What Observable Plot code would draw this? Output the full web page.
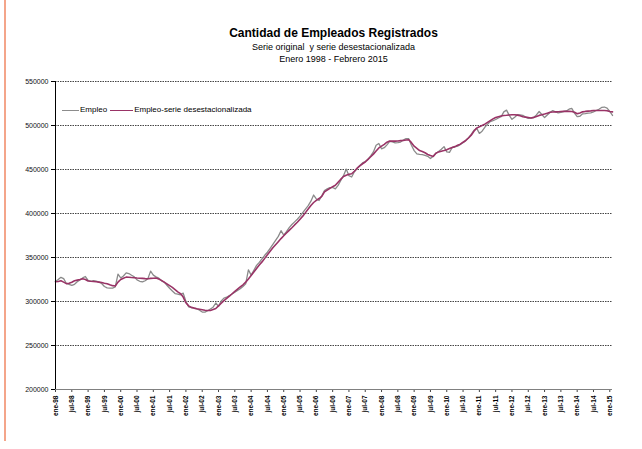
<!DOCTYPE html>
<html><head><meta charset="utf-8">
<script src="https://cdn.jsdelivr.net/npm/d3@7"></script>
<script src="https://cdn.jsdelivr.net/npm/@observablehq/plot@0.6"></script>
<style>
body{margin:0;background:#fff;font-family:"Liberation Sans",Arial,sans-serif;}
#wrap{position:relative;width:642px;height:449px;overflow:hidden;background:#fff;}
#border{position:absolute;left:4px;top:0;width:2px;height:441px;background:#f4a58a;}
.tl{position:absolute;left:55px;width:557px;text-align:center;color:#000;white-space:pre;line-height:1;}
#t1{top:27px;font-size:12px;font-weight:bold;}
#t2{top:43px;font-size:9px;}
#t3{top:55px;font-size:9px;}
#chart{position:absolute;left:0;top:72px;}
#legend{position:absolute;left:62px;top:105px;font-size:8px;color:#000;display:flex;align-items:center;line-height:10px;}
.sw{display:inline-block;height:0;margin-right:1px;}
</style></head>
<body>
<div id="wrap">
  <div id="border"></div>
  <div class="tl" id="t1">Cantidad de Empleados Registrados</div>
  <div class="tl" id="t2">Serie original  y serie desestacionalizada</div>
  <div class="tl" id="t3">Enero 1998 - Febrero 2015</div>
  <div id="chart"></div>
  <div id="legend">
    <span class="sw" style="width:17px;border-top:1.5px solid #8c8c8c"></span><span style="margin-right:3px">Empleo</span>
    <span class="sw" style="width:23px;border-top:1.5px solid #993366"></span><span>Empleo-serie desestacionalizada</span>
  </div>
</div>
<script>
// Monthly values, January 1998 - February 2015 (thousands of employees)
const empleo = [
  322.7, 325.0, 327.5, 326.0, 320.5, 319.5, 318.3, 319.5, 322.5, 324.5, 326.8, 328.4,
  324.0, 322.8, 323.6, 323.2, 322.0, 320.5, 317.0, 315.5, 315.2, 315.2, 316.5, 331.0,
  326.8, 329.0, 332.5, 331.8, 329.8, 328.0, 324.5, 323.0, 322.2, 323.6, 326.0, 334.5,
  330.0, 328.0, 326.5, 323.5, 322.0, 318.5, 315.0, 312.0, 309.0, 308.5, 307.6, 309.5,
  300.0, 294.0, 293.0, 292.5, 291.7, 290.0, 288.0, 288.0, 289.5, 291.5, 293.5, 298.3,
  294.5, 300.5, 303.8, 304.9, 306.8, 308.5, 310.5, 312.5, 314.5, 317.0, 320.0, 336.0,
  330.0, 335.5, 341.0, 344.5, 348.5, 352.5, 356.0, 360.5, 365.0, 369.5, 374.0, 380.5,
  375.5, 379.5, 384.0, 387.5, 390.5, 393.5, 397.0, 401.0, 405.0, 409.0, 414.0, 421.0,
  416.5, 414.8, 420.0, 426.0, 428.0, 429.5, 429.5, 428.0, 432.0, 437.5, 443.0, 450.5,
  443.0, 441.5, 447.5, 451.0, 454.5, 457.5, 459.0, 461.5, 465.5, 470.0, 477.5, 479.5,
  473.5, 474.8, 478.0, 482.0, 481.5, 480.3, 480.5, 481.2, 483.5, 485.0, 485.0, 477.5,
  471.5, 467.8, 467.2, 466.8, 466.0, 465.0, 462.5, 465.0, 468.5, 470.5, 473.0, 476.0,
  470.0, 469.5, 475.0, 475.8, 476.5, 478.5, 480.5, 483.0, 486.0, 490.0, 494.5, 497.0,
  491.0, 493.5, 498.0, 501.5, 504.5, 505.5, 506.8, 508.5, 510.0, 515.5, 517.5, 511.5,
  507.0, 509.5, 512.2, 512.0, 511.5, 509.5, 508.0, 508.5, 509.0, 512.0, 515.9, 512.5,
  509.0, 512.0, 514.8, 517.0, 515.5, 514.4, 515.0, 515.9, 516.5, 518.5, 519.5, 514.0,
  510.0, 510.5, 513.3, 513.5, 514.0, 514.4, 515.5, 517.0, 518.5, 520.5, 521.0, 519.7,
  516.0, 511.4
];
const desestacionalizada = [
  322.5, 322.8, 323.5, 322.0, 320.3, 320.8, 321.8, 323.5, 324.3, 325.0, 325.8, 325.0,
  323.3, 323.0, 322.8, 322.5, 322.0, 321.5, 320.8, 320.2, 319.0, 318.0, 317.6, 322.0,
  325.0, 326.5, 327.7, 327.5, 327.2, 327.0, 326.7, 326.5, 326.3, 326.0, 325.8, 326.3,
  326.5, 326.7, 325.5, 324.0, 322.0, 320.0, 318.0, 316.0, 313.5, 311.0, 309.0, 305.0,
  298.5, 295.0, 293.3, 292.5, 291.8, 291.2, 290.6, 290.0, 289.8, 289.8, 290.8, 292.0,
  295.0, 298.0, 301.0, 303.5, 306.0, 308.8, 311.5, 314.0, 316.5, 319.0, 322.0, 325.5,
  329.5, 333.5, 337.5, 341.5, 345.0, 349.0, 353.0, 357.0, 361.0, 364.5, 368.0, 371.5,
  374.7, 377.8, 380.8, 383.8, 387.0, 390.0, 393.5, 397.0, 401.0, 405.0, 409.0, 412.5,
  415.0, 417.0, 419.5, 424.5, 426.5, 428.5, 430.5, 432.0, 435.5, 439.0, 442.0, 443.5,
  444.5, 445.2, 448.0, 451.5, 454.0, 456.5, 458.5, 461.5, 464.5, 467.5, 471.0, 474.5,
  476.5, 478.5, 481.0, 482.3, 482.3, 482.2, 482.4, 482.8, 483.0, 483.5, 483.8, 480.5,
  476.5, 474.0, 471.5, 470.5, 469.0, 467.0, 465.8, 464.8, 468.5, 470.0, 470.8, 471.5,
  472.5, 473.8, 475.0, 476.0, 477.5, 478.8, 481.0, 483.0, 485.8, 489.0, 493.5, 497.0,
  498.5, 500.0, 501.5, 503.5, 505.5, 507.5, 509.0, 510.0, 510.8, 511.3, 511.6, 512.0,
  512.2, 512.2, 511.8, 511.0, 510.0, 509.5, 509.0, 508.5, 509.2, 510.3, 511.5, 512.2,
  513.0, 514.0, 515.0, 515.3, 515.5, 515.7, 515.9, 516.0, 516.0, 516.0, 515.9, 515.0,
  513.3, 514.3, 515.5, 516.0, 516.3, 516.6, 517.0, 517.0, 517.0, 517.0, 517.0, 516.8,
  516.0, 515.5
];
const xTickLabels = [
  "ene-98","jul-98","ene-99","jul-99","ene-00","jul-00","ene-01","jul-01","ene-02","jul-02",
  "ene-03","jul-03","ene-04","jul-04","ene-05","jul-05","ene-06","jul-06","ene-07","jul-07",
  "ene-08","jul-08","ene-09","jul-09","ene-10","jul-10","ene-11","jul-11","ene-12","jul-12",
  "ene-13","jul-13","ene-14","jul-14","ene-15"
];
const yTicks = [200000, 250000, 300000, 350000, 400000, 450000, 500000, 550000];
const UNIT = 1000;

const xTickPos = xTickLabels.map((_, k) => k * 6);
const s1 = empleo.map((v, i) => ({i, v: v * UNIT}));
const s2 = desestacionalizada.map((v, i) => ({i, v: v * UNIT}));

const chart = Plot.plot({
  width: 642, height: 377,
  marginLeft: 55, marginRight: 30, marginTop: 9, marginBottom: 60,
  style: {fontFamily: "'Liberation Sans', Arial, sans-serif", background: "transparent", color: "#000"},
  x: {domain: [0, empleo.length - 1]},
  y: {domain: [yTicks[0], yTicks[yTicks.length - 1]]},
  marks: [
    Plot.gridY(yTicks.slice(1), {stroke: "#444", strokeOpacity: 1, strokeWidth: 1, strokeDasharray: "1.5,1"}),
    Plot.line(s1, {x: "i", y: "v", stroke: "#8a8a8a", strokeWidth: 1.3}),
    Plot.line(s2, {x: "i", y: "v", stroke: "#993366", strokeWidth: 1.6}),
    Plot.axisY({ticks: yTicks, tickFormat: d => String(d), tickSize: 4, tickPadding: 3, fontSize: 7, fill: "#111", stroke: "#000", label: null}),
    Plot.ruleX([0], {stroke: "#000", strokeWidth: 1}),
    Plot.axisX({ticks: xTickPos, tickFormat: d => xTickLabels[d / 6], tickRotate: -90, tickSize: 3, tickPadding: 3, fontSize: 6.5, fontWeight: "bold", fill: "#000", stroke: "#444", label: null}),
    Plot.ruleY([yTicks[0]], {stroke: "#808080", strokeWidth: 1.2})
  ]
});
document.getElementById("chart").appendChild(chart);
</script>
</body></html>
